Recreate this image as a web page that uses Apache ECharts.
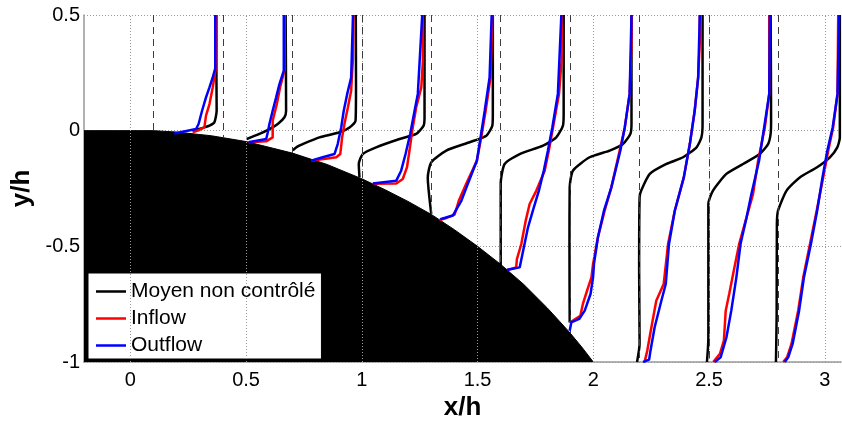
<!DOCTYPE html>
<html><head><meta charset="utf-8">
<script src="https://cdn.jsdelivr.net/npm/echarts@6/dist/echarts.min.js"></script>
<style>html,body{margin:0;padding:0;background:#fff}#c{width:842px;height:421px}</style>
</head><body><div id="c"></div>
<script>
// ---------- data ----------
const xTicks = [0, 0.5, 1, 1.5, 2, 2.5, 3];
const yTicks = [-1, -0.5, 0, 0.5];
const seriesNames = ['Moyen non contrôlé', 'Inflow', 'Outflow'];
const seriesColors = ['#000000', '#ff0000', '#0000ff'];

// measurement stations (dashed lines) and wall height under each
const stations = [0.1, 0.4, 0.7, 1.0, 1.3, 1.6, 1.9, 2.2, 2.5, 2.8];
const stationWallY = [0, -0.03, -0.097, -0.208, -0.362, -0.578, -0.875, -1, -1, -1];

// wall (black body) outline
const wallX = [-0.2, 0.1, 0.2, 0.35, 0.5, 0.7, 0.85, 1.0, 1.1, 1.2, 1.3, 1.4, 1.5, 1.6, 1.7, 1.8, 1.855, 1.9, 1.95, 2.0];
const wallY = [0, 0, -0.006, -0.022, -0.047, -0.097, -0.146, -0.208, -0.255, -0.306, -0.362, -0.428, -0.5, -0.578, -0.665, -0.765, -0.825, -0.875, -0.935, -1.0];

// profiles [x/h, y/h], one list per station
const moyenProfiles = [
  [[0.372,0.5],[0.372,0.26],[0.373,0.086],[0.363,0.036],[0.342,0.022],[0.313,0.012],[0.284,0.004],[0.27,0]],
  [[0.671,0.5],[0.673,0.086],[0.666,0.058],[0.637,0.029],[0.601,0.007],[0.558,-0.014],[0.503,-0.036]],
  [[0.974,0.5],[0.975,0.2],[0.973,0.043],[0.947,0.014],[0.904,-0.007],[0.817,-0.029],[0.745,-0.058],[0.72,-0.07],[0.702,-0.085]],
  [[1.271,0.5],[1.271,0.058],[1.267,0.022],[1.235,-0.014],[1.163,-0.036],[1.062,-0.072],[1.004,-0.101],[0.987,-0.144],[0.99,-0.202]],
  [[1.566,0.5],[1.566,0.076],[1.564,0.022],[1.538,-0.022],[1.466,-0.05],[1.365,-0.086],[1.3,-0.137],[1.285,-0.202],[1.3,-0.36]],
  [[1.872,0.5],[1.872,0.076],[1.869,0.022],[1.84,-0.029],[1.783,-0.065],[1.682,-0.101],[1.617,-0.144],[1.6,-0.23],[1.6,-0.432],[1.6,-0.584]],
  [[2.165,0.5],[2.165,0.029],[2.16,-0.014],[2.128,-0.058],[2.071,-0.086],[1.984,-0.115],[1.912,-0.173],[1.898,-0.245],[1.897,-0.5],[1.898,-0.829]],
  [[2.472,0.5],[2.472,0.029],[2.467,-0.029],[2.446,-0.072],[2.388,-0.115],[2.316,-0.144],[2.244,-0.187],[2.207,-0.259],[2.2,-0.288],[2.198,-0.6],[2.2,-0.922],[2.189,-1]],
  [[2.766,0.5],[2.768,0.044],[2.766,-0.014],[2.755,-0.058],[2.719,-0.101],[2.647,-0.144],[2.575,-0.187],[2.517,-0.259],[2.497,-0.317],[2.497,-0.9],[2.491,-1]],
  [[3.065,0.5],[3.065,-0.029],[3.054,-0.072],[3.022,-0.115],[2.965,-0.159],[2.892,-0.202],[2.835,-0.259],[2.798,-0.346],[2.793,-0.403],[2.792,-0.8],[2.789,-1]]
];
const inflowProfiles = [
  [[0.368,0.5],[0.371,0.4],[0.368,0.26],[0.356,0.187],[0.342,0.115],[0.327,0.065],[0.32,0.014],[0.298,0.003],[0.269,-0.007]],
  [[0.667,0.5],[0.666,0.26],[0.647,0.187],[0.633,0.115],[0.615,0.043],[0.615,-0.029],[0.587,-0.046],[0.511,-0.05]],
  [[0.964,0.5],[0.962,0.317],[0.954,0.173],[0.94,0.101],[0.925,0.029],[0.915,-0.029],[0.907,-0.101],[0.89,-0.115],[0.781,-0.13]],
  [[1.264,0.5],[1.264,0.303],[1.257,0.187],[1.235,0.101],[1.218,0],[1.206,-0.086],[1.195,-0.159],[1.177,-0.209],[1.149,-0.228],[1.048,-0.23]],
  [[1.564,0.5],[1.556,0.23],[1.535,0.086],[1.516,-0.029],[1.497,-0.13],[1.451,-0.23],[1.419,-0.303],[1.401,-0.363],[1.358,-0.38],[1.336,-0.386]],
  [[1.864,0.5],[1.863,0.303],[1.852,0.159],[1.826,0.014],[1.808,-0.086],[1.79,-0.173],[1.754,-0.259],[1.725,-0.317],[1.708,-0.389],[1.689,-0.49],[1.67,-0.555],[1.667,-0.591],[1.627,-0.602]],
  [[2.165,0.5],[2.165,0.375],[2.157,0.159],[2.136,0.014],[2.114,-0.086],[2.078,-0.245],[2.049,-0.346],[2.02,-0.461],[1.999,-0.576],[1.992,-0.634],[1.973,-0.692],[1.955,-0.749],[1.944,-0.8],[1.912,-0.821],[1.898,-0.83]],
  [[2.46,0.5],[2.46,0.38],[2.453,0.23],[2.438,0.086],[2.417,-0.058],[2.391,-0.202],[2.352,-0.346],[2.323,-0.49],[2.304,-0.663],[2.272,-0.735],[2.251,-0.85],[2.233,-0.951],[2.223,-0.994]],
  [[2.76,0.5],[2.76,0.159],[2.741,0.014],[2.712,-0.13],[2.69,-0.274],[2.662,-0.375],[2.63,-0.49],[2.604,-0.62],[2.587,-0.706],[2.572,-0.778],[2.564,-0.908],[2.547,-0.965],[2.518,-1]],
  [[3.058,0.5],[3.055,0.159],[3.036,0.014],[3.015,-0.086],[2.993,-0.202],[2.965,-0.346],[2.936,-0.49],[2.907,-0.634],[2.885,-0.778],[2.856,-0.922],[2.837,-0.98],[2.82,-1]]
];
const outflowProfiles = [
  [[0.367,0.5],[0.367,0.27],[0.356,0.23],[0.342,0.187],[0.327,0.144],[0.31,0.086],[0.295,0.029],[0.284,0.007],[0.19,-0.012]],
  [[0.663,0.5],[0.663,0.26],[0.644,0.2],[0.63,0.144],[0.615,0.086],[0.601,0.029],[0.594,-0.007],[0.587,-0.036],[0.511,-0.05]],
  [[0.962,0.5],[0.954,0.23],[0.937,0.159],[0.922,0.086],[0.911,0.014],[0.896,-0.058],[0.882,-0.101],[0.831,-0.115],[0.781,-0.13]],
  [[1.261,0.5],[1.242,0.159],[1.228,0.086],[1.209,-0.014],[1.189,-0.101],[1.17,-0.173],[1.149,-0.216],[1.048,-0.228]],
  [[1.561,0.5],[1.552,0.23],[1.531,0.086],[1.513,-0.029],[1.497,-0.13],[1.458,-0.23],[1.43,-0.303],[1.393,-0.367],[1.339,-0.383]],
  [[1.862,0.5],[1.847,0.159],[1.823,0.014],[1.804,-0.086],[1.786,-0.173],[1.765,-0.259],[1.739,-0.346],[1.718,-0.418],[1.703,-0.49],[1.682,-0.591],[1.627,-0.602]],
  [[2.165,0.5],[2.157,0.159],[2.136,0.014],[2.117,-0.086],[2.078,-0.245],[2.046,-0.346],[2.02,-0.461],[2.003,-0.576],[1.999,-0.634],[1.988,-0.706],[1.963,-0.778],[1.939,-0.814],[1.905,-0.829],[1.898,-0.865]],
  [[2.46,0.5],[2.453,0.23],[2.438,0.086],[2.417,-0.058],[2.391,-0.202],[2.352,-0.346],[2.327,-0.49],[2.313,-0.663],[2.294,-0.735],[2.265,-0.85],[2.247,-0.951],[2.241,-0.99],[2.215,-1]],
  [[2.763,0.5],[2.76,0.159],[2.738,0.014],[2.716,-0.13],[2.683,-0.274],[2.662,-0.375],[2.636,-0.49],[2.618,-0.634],[2.596,-0.778],[2.575,-0.894],[2.55,-0.98],[2.525,-1]],
  [[3.062,0.5],[3.055,0.159],[3.034,0.014],[3.011,-0.086],[2.99,-0.202],[2.967,-0.346],[2.94,-0.49],[2.91,-0.634],[2.889,-0.778],[2.861,-0.922],[2.842,-0.98],[2.827,-1]]
];

// ---------- chart ----------
const FONT = '"Liberation Sans", Arial, Helvetica, sans-serif';
const chart = echarts.init(document.getElementById('c'), null, {renderer: 'canvas'});

const series = [];
// dotted vertical grid lines
series.push({
  type: 'line', name: '_gridx', data: [], z: 1, silent: true,
  markLine: {
    silent: true, symbol: ['none', 'none'], label: {show: false}, animation: false,
    lineStyle: {color: '#999', type: [1, 2], width: 1},
    data: xTicks.map(v => ({xAxis: v}))
  }
});
// body
series.push({
  type: 'line', name: '_wall', z: 2, silent: true, symbol: 'none',
  data: wallX.map((x, i) => [x, wallY[i]]),
  lineStyle: {color: '#000', width: 1},
  areaStyle: {color: '#000', opacity: 1, origin: 'start'}
});
// dashed station lines
series.push({
  type: 'line', name: '_stations', data: [], z: 2, silent: true,
  markLine: {
    silent: true, symbol: ['none', 'none'], label: {show: false}, animation: false,
    lineStyle: {color: '#3c3c3c', type: [7, 5], width: 1},
    data: stations.map((s, i) => [{coord: [s, 0.5]}, {coord: [s, stationWallY[i]]}])
  }
});
[moyenProfiles, inflowProfiles, outflowProfiles].forEach((group, gi) => {
  group.forEach(p => {
    series.push({
      type: 'line', name: seriesNames[gi], data: p, z: 3 + gi,
      symbol: 'none', showSymbol: false, smooth: gi === 0 ? 0.2 : 0,
      lineStyle: {color: seriesColors[gi], width: 2.5},
      itemStyle: {color: seriesColors[gi]}
    });
  });
});

chart.setOption({
  animation: false,
  backgroundColor: '#fff',
  grid: {left: 84, right: 1, top: 15, bottom: 59, containLabel: false, outerBoundsMode: 'none'},
  xAxis: {
    type: 'value', min: -0.2, max: 3.07,
    name: 'x/h', nameLocation: 'middle', nameGap: 30,
    nameTextStyle: {fontFamily: FONT, fontSize: 26, fontWeight: 'bold', color: '#000'},
    axisLine: {show: true, onZero: false, lineStyle: {color: '#999', width: 1.5}},
    axisTick: {show: false, customValues: xTicks},
    axisLabel: {customValues: xTicks, fontFamily: FONT, fontSize: 20, color: '#000', margin: 8},
    splitLine: {show: false}
  },
  yAxis: {
    type: 'value', min: -1, max: 0.5, interval: 0.5,
    name: 'y/h', nameLocation: 'middle', nameGap: 27, nameRotate: 90,
    nameTextStyle: {fontFamily: FONT, fontSize: 26, fontWeight: 'bold', color: '#000'},
    axisLine: {show: true, onZero: false, lineStyle: {color: '#999', width: 1.5}},
    axisTick: {show: false},
    axisLabel: {fontFamily: FONT, fontSize: 20, color: '#000', margin: 4},
    splitLine: {show: true, lineStyle: {color: '#999', type: [1, 2], width: 1}}
  },
  legend: {
    data: seriesNames.map((n, i) => ({name: n, icon: 'rect', itemStyle: {color: seriesColors[i]}})),
    orient: 'vertical', left: 88, top: 273,
    backgroundColor: '#fff', borderColor: '#000', borderWidth: 1,
    padding: [8, 6, 3, 8], itemWidth: 30, itemHeight: 2.5, itemGap: 6,
    textStyle: {fontFamily: FONT, fontSize: 21, color: '#000'},
    selectedMode: false
  },
  series: series
});
</script>
</body></html>
